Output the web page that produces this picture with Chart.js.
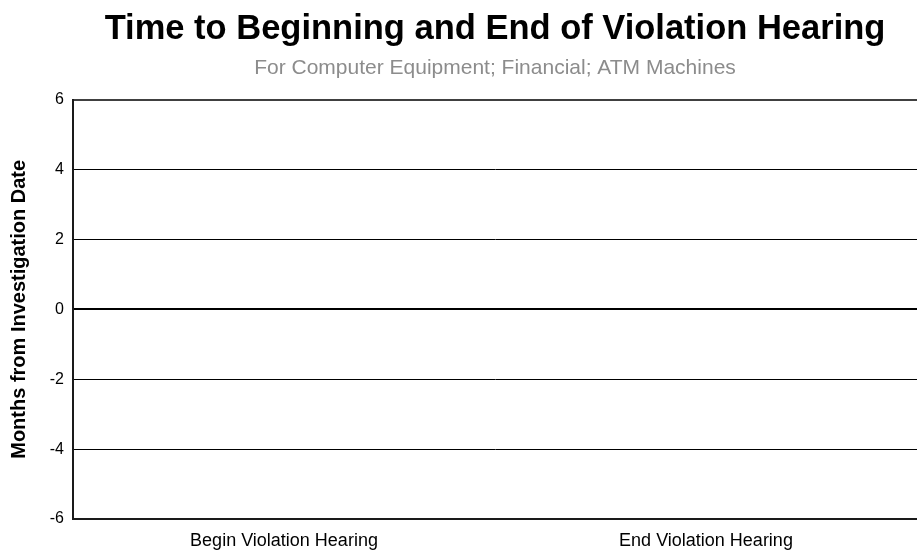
<!DOCTYPE html>
<html>
<head>
<meta charset="utf-8">
<script src="https://cdn.jsdelivr.net/npm/chart.js@4"></script>
<style>
  html, body { margin: 0; padding: 0; background: #fff; }
  #wrap { width: 917px; height: 550px; }
</style>
</head>
<body>
<div id="wrap"><canvas id="chart" width="917" height="550"></canvas></div>
<script>
// chart data (the reference shows no marks for either category)
const categories = ['Begin Violation Hearing', 'End Violation Hearing'];
const monthsValues = [null, null];
const yMin = -6;
const yMax = 6;
const yStep = 2;

const fontFamily = 'Liberation Sans, Arial, sans-serif';

document.addEventListener('DOMContentLoaded', () => {
  const ctx = document.getElementById('chart').getContext('2d');

  new Chart(ctx, {
    type: 'bar',
    data: {
      labels: categories,
      datasets: [{ label: 'Months', data: monthsValues, backgroundColor: '#4472c4' }]
    },
    options: {
      responsive: false,
      animation: false,
      layout: { padding: { top: 0, right: 0, left: 4, bottom: 0 } },
      plugins: {
        legend: { display: false },
        tooltip: { enabled: false },
        title: {
          display: true,
          text: 'Time to Beginning and End of Violation Hearing',
          color: '#000',
          fullSize: false,
          font: { family: fontFamily, size: 34.5, weight: 'bold' },
          padding: { top: 9, bottom: 5 }
        },
        subtitle: {
          display: true,
          text: 'For Computer Equipment; Financial; ATM Machines',
          color: '#8c8c8c',
          fullSize: false,
          font: { family: fontFamily, size: 21 },
          padding: { top: 0, bottom: 19 }
        }
      },
      scales: {
        x: {
          grid: { display: false, drawTicks: false },
          border: { display: true, color: '#1a1a1a', width: 2 },
          ticks: {
            color: '#000',
            font: { family: fontFamily, size: 18 },
            padding: 11,
            maxRotation: 0
          },
          afterFit: s => { s.height = 31; }
        },
        y: {
          min: yMin,
          max: yMax,
          title: {
            display: true,
            text: 'Months from Investigation Date',
            color: '#000',
            font: { family: fontFamily, size: 20, weight: 'bold' },
            padding: { top: 3, bottom: 12 }
          },
          border: { display: true, color: '#1a1a1a', width: 2 },
          grid: {
            drawTicks: false,
            color: c => (c.tick && c.tick.value === yMax ? '#404040' : '#000'),
            lineWidth: c => (c.tick && (c.tick.value === 0 || c.tick.value === yMax) ? 2 : 1)
          },
          ticks: {
            stepSize: yStep,
            color: '#000',
            font: { family: fontFamily, size: 16 },
            padding: 9
          },
          afterFit: s => { s.width = 69; }
        }
      }
    }
  });
});
</script>
</body>
</html>
